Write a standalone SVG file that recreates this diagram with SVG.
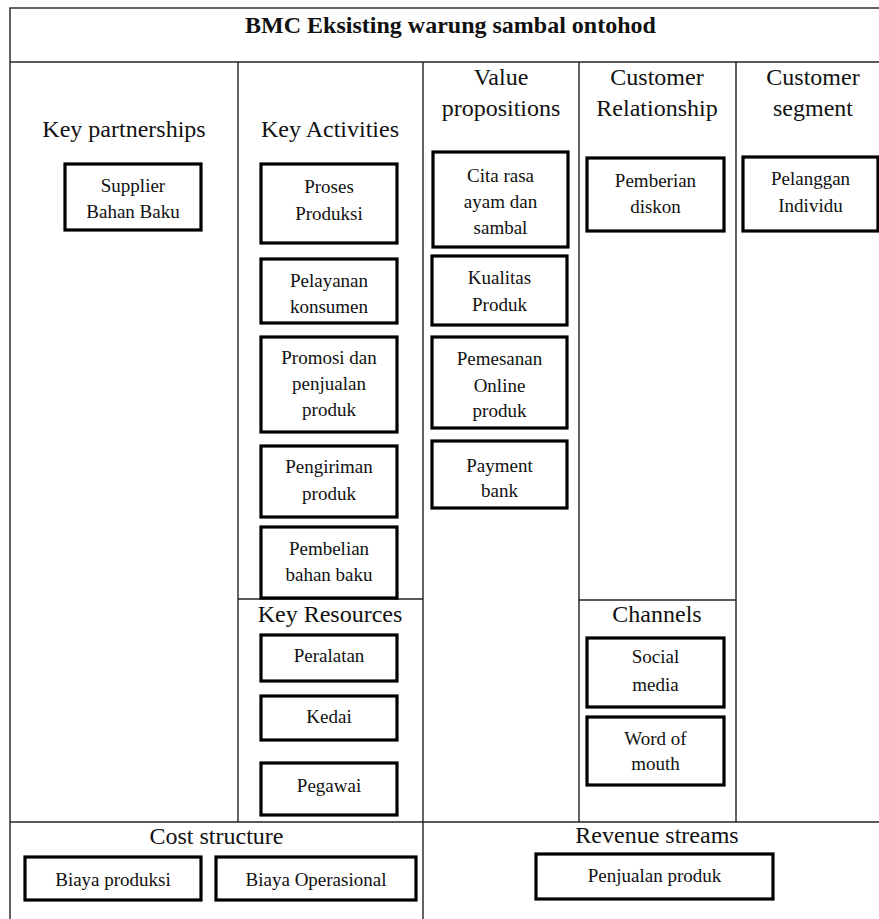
<svg xmlns="http://www.w3.org/2000/svg" width="879" height="919" viewBox="0 0 879 919" font-family="'Liberation Serif', 'DejaVu Serif', serif">
<style>
.grid{stroke:#222;stroke-width:1.4;fill:none}
.box{fill:#fff;stroke:#000;stroke-width:3.2}
text{font-family:'Liberation Serif','DejaVu Serif',serif;fill:#111;text-anchor:middle}
.h{font-size:24px}
.t{font-size:19px}
.title{font-size:24px;font-weight:bold}
</style>
<rect width="879" height="919" fill="#fff"/>
<g id="grid" class="grid">
<rect x="10" y="8" width="881" height="930"/>
<line x1="10" y1="62" x2="891" y2="62"/>
<line x1="238" y1="62" x2="238" y2="822"/>
<line x1="423" y1="62" x2="423" y2="938"/>
<line x1="579" y1="62" x2="579" y2="822"/>
<line x1="736" y1="62" x2="736" y2="822"/>
<line x1="238" y1="599" x2="423" y2="599"/>
<line x1="579" y1="600" x2="736" y2="600"/>
<line x1="10" y1="822" x2="891" y2="822"/>
</g>
<g id="connectors"></g>
<g id="headers">
<text class="title" x="450.5" y="33">BMC Eksisting warung sambal ontohod</text>
<text class="h" x="124" y="137">Key partnerships</text>
<text class="h" x="330" y="137">Key Activities</text>
<text class="h" x="501" y="85">Value</text>
<text class="h" x="501" y="116">propositions</text>
<text class="h" x="657" y="85">Customer</text>
<text class="h" x="657" y="116">Relationship</text>
<text class="h" x="813" y="85">Customer</text>
<text class="h" x="813" y="116">segment</text>
<text class="h" x="330" y="622">Key Resources</text>
<text class="h" x="657" y="622">Channels</text>
<text class="h" x="216.5" y="844">Cost structure</text>
<text class="h" x="657" y="843">Revenue streams</text>
</g>
<g id="supplier"><rect class="box" x="65" y="164" width="136" height="66"/><text class="t" x="133" y="192">Supplier</text><text class="t" x="133" y="218">Bahan Baku</text></g>
<g id="proses"><rect class="box" x="261" y="164" width="136" height="79"/><text class="t" x="329" y="193">Proses</text><text class="t" x="329" y="220">Produksi</text></g>
<g id="pelayanan"><rect class="box" x="261" y="259" width="136" height="64"/><text class="t" x="329" y="287">Pelayanan</text><text class="t" x="329" y="313">konsumen</text></g>
<g id="promosi"><rect class="box" x="261" y="337" width="136" height="95"/><text class="t" x="329" y="364">Promosi dan</text><text class="t" x="329" y="390">penjualan</text><text class="t" x="329" y="416">produk</text></g>
<g id="pengiriman"><rect class="box" x="261" y="446" width="136" height="71"/><text class="t" x="329" y="473">Pengiriman</text><text class="t" x="329" y="500">produk</text></g>
<g id="pembelian"><rect class="box" x="261" y="527" width="136" height="71"/><text class="t" x="329" y="555">Pembelian</text><text class="t" x="329" y="581">bahan baku</text></g>
<g id="peralatan"><rect class="box" x="261" y="635" width="136" height="46"/><text class="t" x="329" y="662">Peralatan</text></g>
<g id="kedai"><rect class="box" x="261" y="696" width="136" height="44"/><text class="t" x="329" y="723">Kedai</text></g>
<g id="pegawai"><rect class="box" x="261" y="763" width="136" height="52"/><text class="t" x="329" y="792">Pegawai</text></g>
<g id="citarasa"><rect class="box" x="433" y="152" width="135" height="95"/><text class="t" x="500.5" y="182">Cita rasa</text><text class="t" x="500.5" y="208">ayam dan</text><text class="t" x="500.5" y="234">sambal</text></g>
<g id="kualitas"><rect class="box" x="432" y="256" width="135" height="69"/><text class="t" x="499.5" y="284">Kualitas</text><text class="t" x="499.5" y="311">Produk</text></g>
<g id="pemesanan"><rect class="box" x="432" y="337" width="135" height="91"/><text class="t" x="499.5" y="365">Pemesanan</text><text class="t" x="499.5" y="392">Online</text><text class="t" x="499.5" y="417">produk</text></g>
<g id="payment"><rect class="box" x="432" y="441" width="135" height="67"/><text class="t" x="499.5" y="472">Payment</text><text class="t" x="499.5" y="497">bank</text></g>
<g id="diskon"><rect class="box" x="587" y="158" width="137" height="73"/><text class="t" x="655.5" y="187">Pemberian</text><text class="t" x="655.5" y="213">diskon</text></g>
<g id="pelanggan"><rect class="box" x="743" y="157" width="135" height="74"/><text class="t" x="810.5" y="185">Pelanggan</text><text class="t" x="810.5" y="212">Individu</text></g>
<g id="social"><rect class="box" x="587" y="638" width="137" height="69"/><text class="t" x="655.5" y="663">Social</text><text class="t" x="655.5" y="691">media</text></g>
<g id="word"><rect class="box" x="587" y="717" width="137" height="68"/><text class="t" x="655.5" y="745">Word of</text><text class="t" x="655.5" y="770">mouth</text></g>
<g id="biayaproduksi"><rect class="box" x="25" y="857" width="176" height="43"/><text class="t" x="113" y="886">Biaya produksi</text></g>
<g id="biayaoperasional"><rect class="box" x="216" y="857" width="200" height="43"/><text class="t" x="316" y="886">Biaya Operasional</text></g>
<g id="penjualan"><rect class="box" x="536" y="854" width="237" height="45"/><text class="t" x="654.5" y="882">Penjualan produk</text></g>
</svg>
